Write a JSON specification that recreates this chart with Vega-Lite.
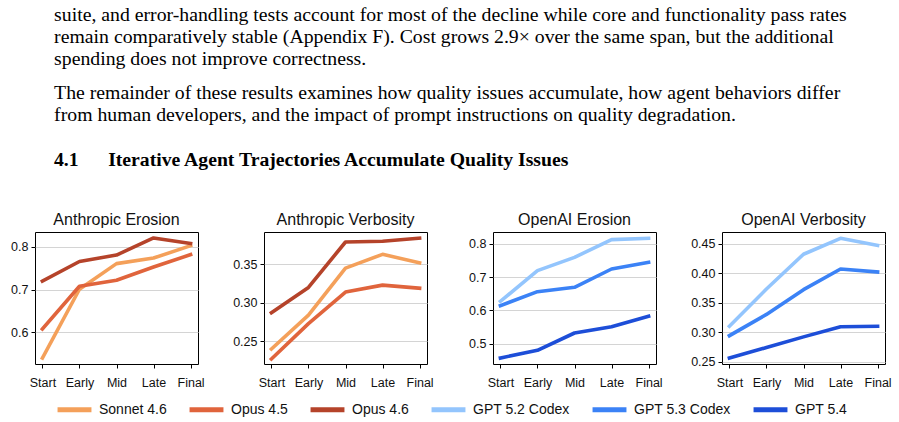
{
  "$schema": "https://vega.github.io/schema/vega-lite/v6.json",
  "padding": {"left": 10, "top": 4, "right": 5, "bottom": 5},
  "background": "white",
  "title": {
    "text": [
      "suite, and error-handling tests account for most of the decline while core and functionality pass rates",
      "remain comparatively stable (Appendix F). Cost grows 2.9× over the same span, but the additional",
      "spending does not improve correctness."
    ],
    "subtitle": [
      "The remainder of these results examines how quality issues accumulate, how agent behaviors differ",
      "from human developers, and the impact of prompt instructions on quality degradation."
    ],
    "anchor": "start",
    "frame": "bounds",
    "dx": 44,
    "font": "Liberation Serif",
    "fontSize": 19.75,
    "fontWeight": "normal",
    "lineHeight": 22,
    "color": "black",
    "subtitleFont": "Liberation Serif",
    "subtitleFontSize": 19.75,
    "subtitleFontWeight": "normal",
    "subtitleColor": "black",
    "subtitleLineHeight": 21.5,
    "subtitlePadding": 14.5,
    "offset": 26
  },
  "data": {
    "values": [
      {"panel": "AE", "model": "Sonnet 4.6", "stage": "Start", "value": 0.540},
      {"panel": "AE", "model": "Sonnet 4.6", "stage": "Early", "value": 0.701},
      {"panel": "AE", "model": "Sonnet 4.6", "stage": "Mid", "value": 0.761},
      {"panel": "AE", "model": "Sonnet 4.6", "stage": "Late", "value": 0.774},
      {"panel": "AE", "model": "Sonnet 4.6", "stage": "Final", "value": 0.803},
      {"panel": "AE", "model": "Opus 4.5", "stage": "Start", "value": 0.608},
      {"panel": "AE", "model": "Opus 4.5", "stage": "Early", "value": 0.708},
      {"panel": "AE", "model": "Opus 4.5", "stage": "Mid", "value": 0.722},
      {"panel": "AE", "model": "Opus 4.5", "stage": "Late", "value": 0.753},
      {"panel": "AE", "model": "Opus 4.5", "stage": "Final", "value": 0.782},
      {"panel": "AE", "model": "Opus 4.6", "stage": "Start", "value": 0.720},
      {"panel": "AE", "model": "Opus 4.6", "stage": "Early", "value": 0.766},
      {"panel": "AE", "model": "Opus 4.6", "stage": "Mid", "value": 0.781},
      {"panel": "AE", "model": "Opus 4.6", "stage": "Late", "value": 0.821},
      {"panel": "AE", "model": "Opus 4.6", "stage": "Final", "value": 0.808},

      {"panel": "AV", "model": "Sonnet 4.6", "stage": "Start", "value": 0.240},
      {"panel": "AV", "model": "Sonnet 4.6", "stage": "Early", "value": 0.284},
      {"panel": "AV", "model": "Sonnet 4.6", "stage": "Mid", "value": 0.345},
      {"panel": "AV", "model": "Sonnet 4.6", "stage": "Late", "value": 0.363},
      {"panel": "AV", "model": "Sonnet 4.6", "stage": "Final", "value": 0.352},
      {"panel": "AV", "model": "Opus 4.5", "stage": "Start", "value": 0.227},
      {"panel": "AV", "model": "Opus 4.5", "stage": "Early", "value": 0.273},
      {"panel": "AV", "model": "Opus 4.5", "stage": "Mid", "value": 0.314},
      {"panel": "AV", "model": "Opus 4.5", "stage": "Late", "value": 0.323},
      {"panel": "AV", "model": "Opus 4.5", "stage": "Final", "value": 0.319},
      {"panel": "AV", "model": "Opus 4.6", "stage": "Start", "value": 0.287},
      {"panel": "AV", "model": "Opus 4.6", "stage": "Early", "value": 0.320},
      {"panel": "AV", "model": "Opus 4.6", "stage": "Mid", "value": 0.379},
      {"panel": "AV", "model": "Opus 4.6", "stage": "Late", "value": 0.380},
      {"panel": "AV", "model": "Opus 4.6", "stage": "Final", "value": 0.384},

      {"panel": "OE", "model": "GPT 5.2 Codex", "stage": "Start", "value": 0.627},
      {"panel": "OE", "model": "GPT 5.2 Codex", "stage": "Early", "value": 0.719},
      {"panel": "OE", "model": "GPT 5.2 Codex", "stage": "Mid", "value": 0.759},
      {"panel": "OE", "model": "GPT 5.2 Codex", "stage": "Late", "value": 0.812},
      {"panel": "OE", "model": "GPT 5.2 Codex", "stage": "Final", "value": 0.816},
      {"panel": "OE", "model": "GPT 5.3 Codex", "stage": "Start", "value": 0.614},
      {"panel": "OE", "model": "GPT 5.3 Codex", "stage": "Early", "value": 0.656},
      {"panel": "OE", "model": "GPT 5.3 Codex", "stage": "Mid", "value": 0.669},
      {"panel": "OE", "model": "GPT 5.3 Codex", "stage": "Late", "value": 0.724},
      {"panel": "OE", "model": "GPT 5.3 Codex", "stage": "Final", "value": 0.744},
      {"panel": "OE", "model": "GPT 5.4", "stage": "Start", "value": 0.457},
      {"panel": "OE", "model": "GPT 5.4", "stage": "Early", "value": 0.480},
      {"panel": "OE", "model": "GPT 5.4", "stage": "Mid", "value": 0.532},
      {"panel": "OE", "model": "GPT 5.4", "stage": "Late", "value": 0.551},
      {"panel": "OE", "model": "GPT 5.4", "stage": "Final", "value": 0.582},

      {"panel": "OV", "model": "GPT 5.2 Codex", "stage": "Start", "value": 0.310},
      {"panel": "OV", "model": "GPT 5.2 Codex", "stage": "Early", "value": 0.373},
      {"panel": "OV", "model": "GPT 5.2 Codex", "stage": "Mid", "value": 0.432},
      {"panel": "OV", "model": "GPT 5.2 Codex", "stage": "Late", "value": 0.459},
      {"panel": "OV", "model": "GPT 5.2 Codex", "stage": "Final", "value": 0.447},
      {"panel": "OV", "model": "GPT 5.3 Codex", "stage": "Start", "value": 0.294},
      {"panel": "OV", "model": "GPT 5.3 Codex", "stage": "Early", "value": 0.330},
      {"panel": "OV", "model": "GPT 5.3 Codex", "stage": "Mid", "value": 0.372},
      {"panel": "OV", "model": "GPT 5.3 Codex", "stage": "Late", "value": 0.407},
      {"panel": "OV", "model": "GPT 5.3 Codex", "stage": "Final", "value": 0.402},
      {"panel": "OV", "model": "GPT 5.4", "stage": "Start", "value": 0.256},
      {"panel": "OV", "model": "GPT 5.4", "stage": "Early", "value": 0.274},
      {"panel": "OV", "model": "GPT 5.4", "stage": "Mid", "value": 0.292},
      {"panel": "OV", "model": "GPT 5.4", "stage": "Late", "value": 0.309},
      {"panel": "OV", "model": "GPT 5.4", "stage": "Final", "value": 0.310}
    ]
  },
  "vconcat": [
    {
      "title": {
        "text": "4.1\u2003\u2002Iterative Agent Trajectories Accumulate Quality Issues",
        "anchor": "start",
        "frame": "group",
        "dx": 19,
        "font": "Liberation Serif",
        "fontSize": 19.7,
        "fontWeight": "bold",
        "color": "black",
        "offset": 41.5
      },
      "bounds": "flush",
      "spacing": 66,
      "hconcat": [
        {
          "title": "Anthropic Erosion",
          "width": 163, "height": 132,
          "transform": [{"filter": "datum.panel === 'AE'"}],
          "mark": {"type": "line", "strokeWidth": 3.6, "strokeCap": "square", "strokeJoin": "round"},
          "encoding": {
            "x": {"field": "stage", "type": "ordinal", "sort": ["Start", "Early", "Mid", "Late", "Final"], "scale": {"type": "point", "padding": 0.2}, "axis": {"title": null}},
            "y": {"field": "value", "type": "quantitative", "scale": {"domain": [0.526, 0.835], "zero": false, "nice": false}, "axis": {"title": null, "values": [0.6, 0.7, 0.8], "format": ".1f"}},
            "color": {"field": "model", "type": "nominal"}
          }
        },
        {
          "title": "Anthropic Verbosity",
          "width": 163, "height": 132,
          "transform": [{"filter": "datum.panel === 'AV'"}],
          "mark": {"type": "line", "strokeWidth": 3.6, "strokeCap": "square", "strokeJoin": "round"},
          "encoding": {
            "x": {"field": "stage", "type": "ordinal", "sort": ["Start", "Early", "Mid", "Late", "Final"], "scale": {"type": "point", "padding": 0.2}, "axis": {"title": null}},
            "y": {"field": "value", "type": "quantitative", "scale": {"domain": [0.2205, 0.392], "zero": false, "nice": false}, "axis": {"title": null, "values": [0.25, 0.30, 0.35], "format": ".2f"}},
            "color": {"field": "model", "type": "nominal"}
          }
        },
        {
          "title": "OpenAI Erosion",
          "width": 163, "height": 132,
          "transform": [{"filter": "datum.panel === 'OE'"}],
          "mark": {"type": "line", "strokeWidth": 3.6, "strokeCap": "square", "strokeJoin": "round"},
          "encoding": {
            "x": {"field": "stage", "type": "ordinal", "sort": ["Start", "Early", "Mid", "Late", "Final"], "scale": {"type": "point", "padding": 0.2}, "axis": {"title": null}},
            "y": {"field": "value", "type": "quantitative", "scale": {"domain": [0.439, 0.835], "zero": false, "nice": false}, "axis": {"title": null, "values": [0.5, 0.6, 0.7, 0.8], "format": ".1f"}},
            "color": {"field": "model", "type": "nominal"}
          }
        },
        {
          "title": "OpenAI Verbosity",
          "width": 163, "height": 132,
          "transform": [{"filter": "datum.panel === 'OV'"}],
          "mark": {"type": "line", "strokeWidth": 3.6, "strokeCap": "square", "strokeJoin": "round"},
          "encoding": {
            "x": {"field": "stage", "type": "ordinal", "sort": ["Start", "Early", "Mid", "Late", "Final"], "scale": {"type": "point", "padding": 0.2}, "axis": {"title": null}},
            "y": {"field": "value", "type": "quantitative", "scale": {"domain": [0.246, 0.4697], "zero": false, "nice": false}, "axis": {"title": null, "values": [0.25, 0.30, 0.35, 0.40, 0.45], "format": ".2f"}},
            "color": {"field": "model", "type": "nominal", "scale": {"domain": ["Sonnet 4.6", "Opus 4.5", "Opus 4.6", "GPT 5.2 Codex", "GPT 5.3 Codex", "GPT 5.4"], "range": ["#f4a05a", "#e0643c", "#b5432a", "#93c5fd", "#3b82f6", "#1d4ed8"]}, "legend": {"title": null, "orient": "none", "direction": "horizontal", "columns": 6, "legendX": 20, "legendY": 158}}
          }
        }
      ],
      "resolve": {"scale": {"y": "independent", "x": "independent"}}
    }
  ],
  "config": {
    "font": "Liberation Sans",
    "view": {"stroke": "black", "strokeWidth": 1},
    "title": {"font": "Liberation Sans", "fontSize": 16, "fontWeight": "normal", "color": "#111", "offset": 4},
    "axis": {
      "domain": false,
      "ticks": true,
      "tickColor": "black",
      "tickSize": 4,
      "tickWidth": 1,
      "labelFont": "Liberation Sans",
      "labelFontSize": 12.5,
      "labelColor": "#111",
      "labelPadding": 8,
      "labelAngle": 0
    },
    "axisY": {"grid": true, "gridColor": "#d4d4d4", "gridWidth": 1, "labelPadding": 3},
    "axisX": {"grid": false, "labelFlush": false},
    "legend": {
      "symbolType": "stroke",
      "symbolSize": 1150,
      "symbolStrokeWidth": 5,
      "labelFont": "Liberation Sans",
      "labelFontSize": 14,
      "labelColor": "#111",
      "labelOffset": 5,
      "columnPadding": 12,
      "symbolOffset": 0
    }
  }
}
